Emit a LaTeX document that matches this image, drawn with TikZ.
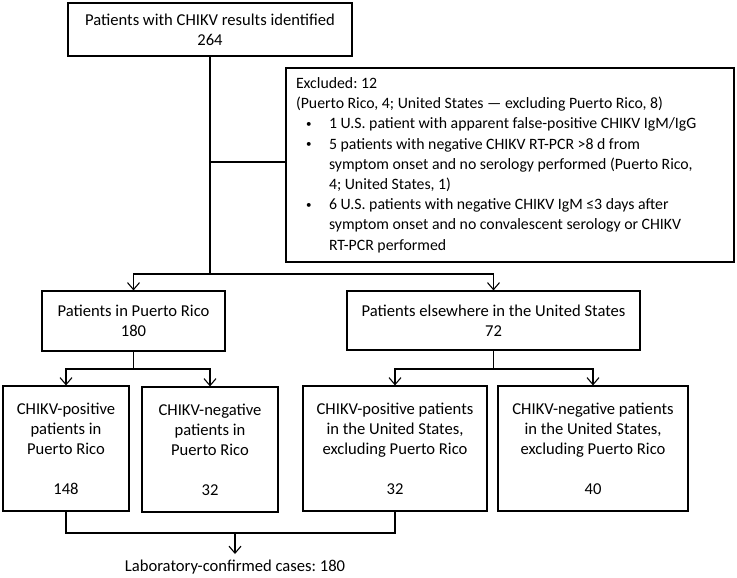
\documentclass[tikz,border=0pt]{standalone}
\usepackage{fontspec}
\setmainfont{Carlito}
\usetikzlibrary{arrows.meta}
\frenchspacing
\newcommand\bitem{\makebox[33pt][l]{\hspace{10pt}\raisebox{1.5pt}{\fontsize{11}{11}\selectfont •}}}
\newcommand\hangpar[1]{{\hangindent=33pt\hangafter=1\noindent\bitem #1\par}}
\begin{document}
\begin{tikzpicture}[x=1pt,y=-1pt,
  txt/.style={font=\fontsize{16.6}{20}\selectfont},
  box/.style={txt, draw, line width=1.1pt, align=center, inner sep=0pt},
  conn/.style={line width=1.1pt},
  arr/.style={conn,-{Straight Barb[length=7pt,width=12pt,line width=1.1pt]}}]
\useasboundingbox (0,0) rectangle (737,578);

\node[box, minimum width=284pt, minimum height=53pt] (top) at (210,29.5)
  {Patients with CHIKV results identified\\264};
\node[draw, line width=1.1pt, inner sep=0pt, minimum width=448pt, minimum height=194pt] (excl) at (510,165)
  {\parbox{428pt}{\fontsize{15.8}{20.2}\selectfont\parskip=0pt\parindent=0pt
   Excluded: 12\par
   (Puerto Rico, 4; United States — excluding Puerto Rico, 8)\par
   \hangpar{1 U.S. patient with apparent false-positive CHIKV IgM/IgG}
   \hangpar{5 patients with negative CHIKV RT-PCR >8 d from\\symptom onset and no serology performed (Puerto Rico,\\4; United States, 1)}
   \hangpar{6 U.S. patients with negative CHIKV IgM ≤3 days after\\symptom onset and no convalescent serology or CHIKV\\RT-PCR performed}}};
\node[box, minimum width=183pt, minimum height=60pt] (pr) at (133.5,321)
  {Patients in Puerto Rico\\180};
\node[box, minimum width=293pt, minimum height=59pt] (us) at (493.5,320.5)
  {Patients elsewhere in the United States\\72};
\node[box, minimum width=126pt, minimum height=125pt] (b1) at (66,448.5)
  {CHIKV-positive\\patients in\\Puerto Rico\\[20pt]148};
\node[box, minimum width=136pt, minimum height=125pt] (b2) at (210,449.5)
  {CHIKV-negative\\patients in\\Puerto Rico\\[20pt]32};
\node[box, minimum width=184pt, minimum height=125pt] (b3) at (395,448.5)
  {CHIKV-positive patients\\in the United States,\\excluding Puerto Rico\\[20pt]32};
\node[box, minimum width=190pt, minimum height=125pt] (b4) at (593,448.5)
  {CHIKV-negative patients\\in the United States,\\excluding Puerto Rico\\[20pt]40};
\node[txt, inner sep=0pt] (lab) at (235,567) {Laboratory-confirmed cases: 180};

\coordinate (j1) at (210,274);
\coordinate (je) at (210,162);
\coordinate (jp) at (133.5,369);
\coordinate (ju) at (493.5,369);
\coordinate (jb) at (235,533);
\coordinate (la) at (235,554);

\draw[conn] (top.south) -- (j1);
\draw[conn] (je) -- (je -| excl.west);
\draw[arr] (j1) -| (pr.north);
\draw[arr] (j1) -| (us.north);
\draw[conn] (pr.south) -- (jp);
\draw[arr] (jp) -| (b1.north);
\draw[arr] (jp) -| (b2.north);
\draw[conn] (us.south) -- (ju);
\draw[arr] (ju) -| (b3.north);
\draw[arr] (ju) -| (b4.north);
\draw[conn] (b1.south) |- (jb) -| (b3.south);
\draw[arr] (jb) -- (la);
\end{tikzpicture}
\end{document}
